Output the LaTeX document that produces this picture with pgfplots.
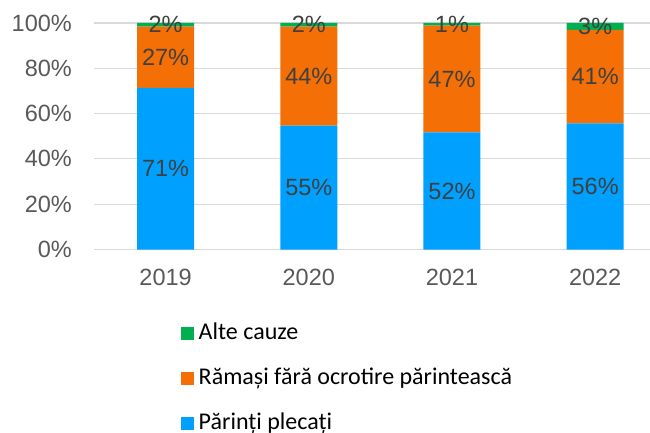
\documentclass[border=0pt]{standalone}
\usepackage{fontspec}
\setmainfont{Liberation Sans}
\newfontfamily\calibri{Carlito}
\usepackage{pgfplots}
\pgfplotsset{compat=1.18}
\usepackage{pgfplotstable}
\definecolor{cblue}{HTML}{00A0FF}
\definecolor{corange}{HTML}{F46F06}
\definecolor{cgreen}{HTML}{00B050}
\definecolor{gridgray}{HTML}{D9D9D9}
\definecolor{tickgray}{HTML}{595959}
\definecolor{labgray}{HTML}{404040}
% segment values
\pgfplotstableread{
x blue orange green
0 71.4 27.0 1.6
1 54.7 43.7 1.6
2 51.7 47.1 1.2
3 55.7 41.3 3.0
}\data
% data labels: position (segment centre) and rounded value
\pgfplotstableread{
x y lab
0 35.70 71
1 27.35 55
2 25.85 52
3 27.85 56
0 84.90 27
1 76.55 44
2 75.25 47
3 76.35 41
0 99.20 2
1 99.20 2
2 99.40 1
3 98.50 3
}\labels
\pgfplotsset{
  mylegend/.style={legend image code/.code={\fill[##1] (0bp,-6.5bp) rectangle (13bp,6.5bp);}},
  mygeom/.style={at={(94bp,183.5bp)}, anchor=south west,
    scale only axis, width=556bp, height=226.5bp,
    xmin=-0.5, xmax=3.383, ymin=0, ymax=100, clip=false},
}
\begin{document}
\begin{tikzpicture}
\useasboundingbox (0,0) rectangle (650bp,433bp);
\begin{axis}[
  mygeom,
  ybar stacked, bar width=57bp,
  xtick={0,1,2,3}, xticklabels={2019,2020,2021,2022},
  ytick={0,20,40,60,80,100},
  yticklabel={\pgfmathprintnumber{\tick}\%},
  /pgf/number format/assume math mode=true,
  ymajorgrids, grid style={draw=gridgray, line width=1.2bp},
  axis line style={draw=none}, major tick length=0pt,
  tick label style={font=\fontsize{23.5bp}{28bp}\selectfont, text=tickgray},
  yticklabel style={inner sep=0pt, anchor=east, xshift=-22bp},
  xticklabel style={inner sep=0pt, anchor=center, yshift=-27.5bp},
  reverse legend,
  legend style={at={(axis description cs:0.156,-0.31)}, anchor=north west,
    draw=none, fill=none, inner sep=0pt, outer sep=0pt, row sep=18bp,
    font=\calibri\fontsize{24bp}{28bp}\selectfont,
    nodes={inner sep=2bp, text height=18bp, text depth=5bp},
    /tikz/every odd column/.style={column sep=3bp},
    cells={anchor=west}},
]
\addplot[fill=cblue, draw=none, mylegend] table[x=x, y=blue]{\data};
\addplot[fill=corange, draw=none, mylegend] table[x=x, y=orange]{\data};
\addplot[fill=cgreen, draw=none, mylegend] table[x=x, y=green]{\data};
\legend{Părinți plecați, Rămași fără ocrotire părintească, Alte cauze}
\end{axis}
\begin{axis}[
  mygeom, hide axis,
]
\addplot[only marks, mark=none, point meta=explicit symbolic,
  nodes near coords={\pgfplotspointmeta\%},
  every node near coord/.style={anchor=center, inner sep=0pt,
    font=\fontsize{23.5bp}{28bp}\selectfont, text=labgray}]
  table[x=x, y=y, meta=lab]{\labels};
\end{axis}
\end{tikzpicture}
\end{document}
